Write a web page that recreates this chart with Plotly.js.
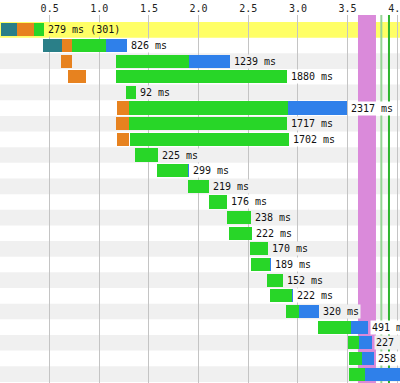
<!DOCTYPE html>
<html>
<head>
<meta charset="utf-8">
<script src="https://cdn.plot.ly/plotly-3.0.1.min.js"></script>
<style>html,body{margin:0;padding:0;background:#fff;}#chart{width:400px;height:383px;}</style>
</head>
<body>
<div id="chart"></div>
<script>
// Request rows (top to bottom), times in seconds
const labels = ["279 ms (301)","826 ms","1239 ms","1880 ms","92 ms","2317 ms","1717 ms","1702 ms","225 ms","299 ms","219 ms","176 ms","238 ms","222 ms","170 ms","189 ms","152 ms","222 ms","320 ms","491 ms","227 ms","258 ms",""];
const dnsStart     = [0.010,0.433,null,null,null,null,null,null,null,null,null,null,null,null,null,null,null,null,null,null,null,null,null];
const dnsEnd       = [0.171,0.624,null,null,null,null,null,null,null,null,null,null,null,null,null,null,null,null,null,null,null,null,null];
const connectStart = [0.171,0.624,0.614,0.685,null,1.178,1.168,1.178,null,null,null,null,null,null,null,null,null,null,null,null,null,null,null];
const connectEnd   = [0.342,0.725,0.725,0.866,null,1.299,1.299,1.299,null,null,null,null,null,null,null,null,null,null,null,null,null,null,null];
const ttfbStart    = [0.342,0.725,1.168,1.168,1.269,1.299,1.299,1.309,1.360,1.581,1.893,2.105,2.286,2.306,2.518,2.528,2.689,2.719,2.880,3.202,3.505,3.515,3.515];
const ttfbEnd      = [0.443,1.067,1.903,2.890,1.370,2.900,2.890,2.910,1.591,1.893,2.105,2.286,2.528,2.538,2.699,2.719,2.850,2.941,3.011,3.535,3.615,3.646,3.676];
const dlStart      = [null,1.067,1.903,null,null,2.900,null,null,null,1.893,null,null,null,null,null,2.719,null,2.941,3.011,3.535,3.615,3.646,3.676];
const dlEnd        = [null,1.279,2.316,null,null,3.494,null,null,null,1.903,null,null,null,null,null,2.729,null,2.951,3.213,3.706,3.746,3.766,4.080];
// Page events (seconds)
const domContentStart = 3.605, domContentEnd = 3.786;
const eventLines = [3.840, 3.917];
const eventColors = ["#96d496", "#2fb52f"];
const tickVals = [0.5,1.0,1.5,2.0,2.5,3.0,3.5,4.0];
const tickText = ["0.5","1.0","1.5","2.0","2.5","3.0","3.5","4.0"];

const rowIdx = labels.map((_, i) => i);
const FONT = "DejaVu Sans Mono";

function phase(starts, ends, color) {
  return {
    type: "bar", orientation: "h",
    y: rowIdx, base: starts,
    x: starts.map((s, i) => (s === null || ends[i] === null) ? null : ends[i] - s),
    width: 0.84,
    marker: {color: color, line: {width: 0}},
    hoverinfo: "skip"
  };
}
const traces = [
  phase(dnsStart, dnsEnd, "#2a7f88"),
  phase(connectStart, connectEnd, "#e7821f"),
  phase(ttfbStart, ttfbEnd, "#28d628"),
  phase(dlStart, dlEnd, "#2f80ea")
];

function rowColor(i) { return i === 0 ? "#ffff66" : (i % 2 === 0 ? "#f0f0f0" : "#ffffff"); }

const shapes = [];
rowIdx.forEach(i => {
  const c = rowColor(i);
  if (c !== "#ffffff") shapes.push({type: "rect", xref: "paper", yref: "y", x0: 0, x1: 1, y0: i - 0.5, y1: i + 0.5, fillcolor: c, line: {width: 0}, layer: "below"});
});
shapes.push({type: "rect", xref: "x", yref: "paper", x0: domContentStart, x1: domContentEnd, y0: 0, y1: 1, fillcolor: "#da8ada", line: {width: 0}, layer: "between"});
eventLines.forEach((t, k) => shapes.push({type: "line", xref: "x", yref: "paper", x0: t, x1: t, y0: 0, y1: 1, line: {color: eventColors[k], width: 2}, layer: "between"}));

const annotations = [];
rowIdx.forEach(i => {
  if (!labels[i]) return;
  const end = Math.max(...[dnsEnd[i], connectEnd[i], ttfbEnd[i], dlEnd[i]].filter(v => v !== null));
  annotations.push({x: end + 0.02, y: i, xref: "x", yref: "y", xanchor: "left", yanchor: "middle",
    text: labels[i], showarrow: false, bgcolor: rowColor(i), borderpad: 1,
    font: {family: FONT, size: 10, color: "#111"}});
});

const layout = {
  width: 400, height: 383,
  margin: {l: 0, r: 0, t: 15, b: 0, pad: 0},
  paper_bgcolor: "#ffffff", plot_bgcolor: "#ffffff",
  showlegend: false, barmode: "overlay", bargap: 0,
  xaxis: {side: "top", range: [0, 4.028], tickvals: tickVals, ticktext: tickText,
    ticklabeloverflow: "allow",
    showgrid: true, gridcolor: "#c4c4c4", gridwidth: 1, zeroline: false, showline: false, ticks: "",
    tickfont: {family: FONT, size: 10, color: "#222"}, fixedrange: true},
  yaxis: {range: [22.57, -0.947], showticklabels: false, showgrid: false, zeroline: false, showline: false, ticks: "", fixedrange: true},
  shapes: shapes, annotations: annotations
};

Plotly.newPlot("chart", traces, layout, {staticPlot: true, displayModeBar: false});
</script>
</body>
</html>
